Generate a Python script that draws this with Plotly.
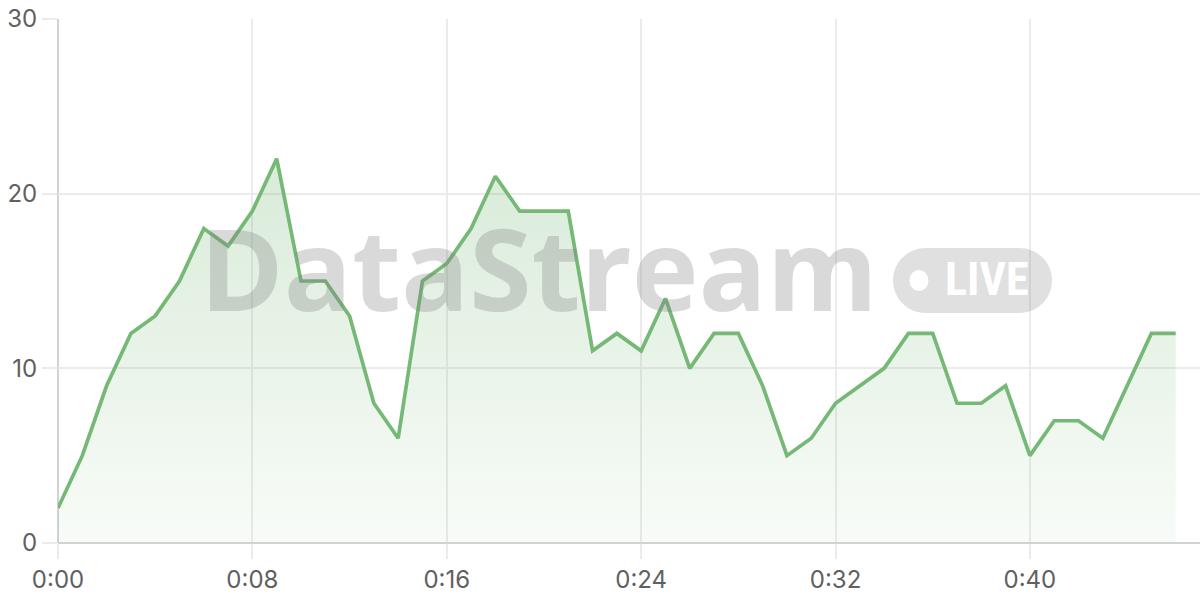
import plotly.graph_objects as go

# one reading per second
seconds = list(range(47))
values = [2, 5, 9, 12, 13, 15, 18, 17, 19, 22,
          15, 15, 13, 8, 6, 15, 16, 18, 21, 19,
          19, 19, 11, 12, 11, 14, 10, 12, 12, 9,
          5, 6, 8, 9, 10, 12, 12, 8, 8, 9,
          5, 7, 7, 6, 9, 12, 12]

tick_secs = [0, 8, 16, 24, 32, 40]
tick_labels = ["0:%02d" % s for s in tick_secs]
y_ticks = [0, 10, 20, 30]

GREEN = "#76b876"
GRID = "#ebebeb"
AXIS = "#d2d2d2"


def pill_path(w, h):
    # rounded pill centred on (0, 0), built from cubic curves (plotly paths have no arcs)
    r = h / 2
    a = w / 2 - r
    k = 0.5523 * r
    return (f"M {-a} {-r} L {a} {-r} "
            f"C {a + k} {-r} {a + r} {-k} {a + r} 0 "
            f"C {a + r} {k} {a + k} {r} {a} {r} "
            f"L {-a} {r} "
            f"C {-a - k} {r} {-a - r} {k} {-a - r} 0 "
            f"C {-a - r} {-k} {-a - k} {-r} {-a} {-r} Z")


fig = go.Figure()
fig.add_trace(go.Scatter(
    x=seconds, y=values, mode="lines",
    line=dict(color=GREEN, width=3.7),
    fill="tozeroy",
    fillgradient=dict(type="vertical",
                      colorscale=[[0, "rgba(118,184,118,0.05)"],
                                  [1, "rgba(118,184,118,0.28)"]]),
    hoverinfo="skip",
))

# watermark
fig.add_annotation(text="<b>DataStream</b>", x=0.4208, y=0.527, xref="paper", yref="paper",
                   xanchor="center", yanchor="middle", showarrow=False,
                   font=dict(family="Open Sans", size=113, color="rgba(130,130,130,0.30)"))
fig.add_shape(type="path", xref="paper", yref="paper",
              xsizemode="pixel", ysizemode="pixel", xanchor=0.8008, yanchor=0.501,
              path=pill_path(159, 65),
              fillcolor="rgba(130,130,130,0.25)", line=dict(width=0), layer="above")
fig.add_shape(type="circle", xref="paper", yref="paper",
              xsizemode="pixel", ysizemode="pixel", xanchor=0.7539, yanchor=0.501,
              x0=-9.5, x1=9.5, y0=-10.5, y1=10.5,
              fillcolor="white", line=dict(width=0), layer="above")
fig.add_annotation(text="<b>LIVE</b>", x=0.8135, y=0.503, xref="paper", yref="paper",
                   xanchor="center", yanchor="middle", showarrow=False,
                   font=dict(family="Roboto Condensed, Roboto", size=46, color="white"))

fig.update_layout(
    width=1200, height=600,
    margin=dict(l=58, r=0, t=19, b=57),
    paper_bgcolor="white", plot_bgcolor="white",
    showlegend=False,
    font=dict(family="Inter", color="#606060", size=24),
    xaxis=dict(range=[0, 47], tickvals=tick_secs, ticktext=tick_labels,
               showgrid=True, gridcolor=GRID, gridwidth=1.5, zeroline=False,
               showline=False, ticks="outside", ticklen=15, tickcolor=GRID, tickwidth=1.5),
    yaxis=dict(range=[0, 30], tickvals=y_ticks,
               showgrid=True, gridcolor=GRID, gridwidth=1.5, zeroline=False,
               showline=False, ticks="outside", ticklen=15, tickcolor=GRID, tickwidth=1.5),
)
# axis lines drawn as shapes so they sit at the exact plot edges
fig.add_shape(type="line", xref="paper", yref="paper", x0=0, x1=1, y0=0, y1=0,
              line=dict(color=AXIS, width=2), layer="above")
fig.add_shape(type="line", xref="paper", yref="paper", x0=0, x1=0, y0=0, y1=1,
              line=dict(color=AXIS, width=2), layer="below")

# drop the default page margin so the 1200x600 figure fills the window
fig.write_html("out.html", config={"displayModeBar": False},
               post_script="document.body.style.margin = '0';")
